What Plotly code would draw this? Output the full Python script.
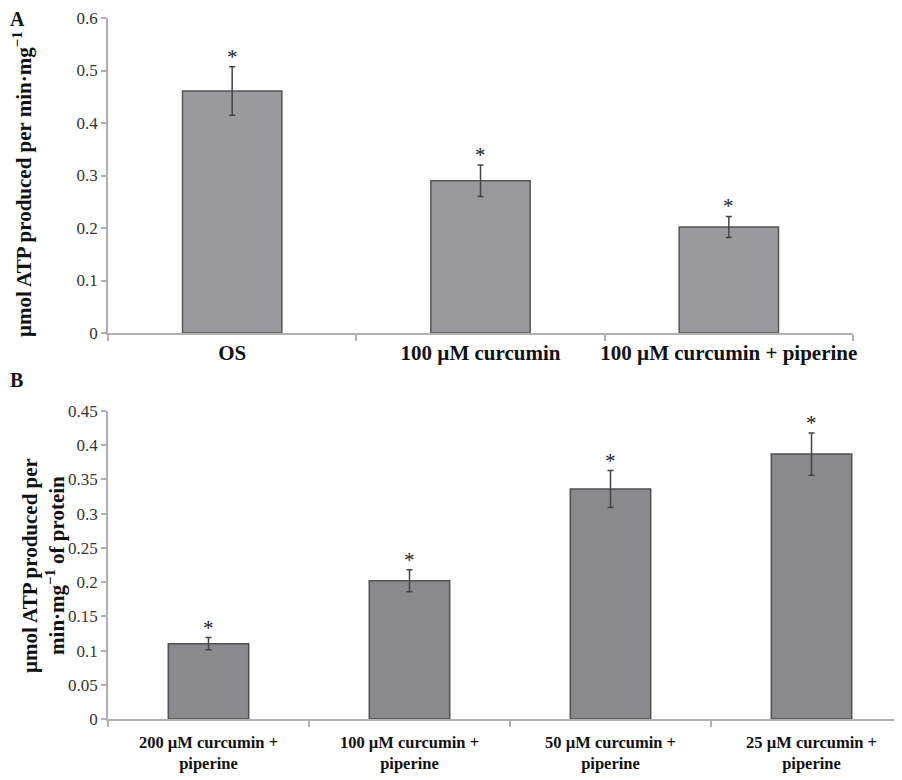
import plotly.graph_objects as go

# Panel A data
cats_a = ["OS", "100 µM curcumin", "100 µM curcumin + piperine"]
vals_a = [0.461, 0.290, 0.202]
errs_a = [0.046, 0.030, 0.020]
yticks_a = [0, 0.1, 0.2, 0.3, 0.4, 0.5, 0.6]

# Panel B data
cats_b = ["200 µM curcumin + piperine", "100 µM curcumin + piperine",
          "50 µM curcumin + piperine", "25 µM curcumin + piperine"]
ticktext_b = ["200 µM curcumin +<br>piperine", "100 µM curcumin +<br>piperine",
              "50 µM curcumin +<br>piperine", "25 µM curcumin +<br>piperine"]
vals_b = [0.110, 0.202, 0.336, 0.387]
errs_b = [0.009, 0.016, 0.027, 0.031]
yticks_b = [0, 0.05, 0.1, 0.15, 0.2, 0.25, 0.3, 0.35, 0.4, 0.45]

W, H = 902, 780
FONT = "Liberation Serif"
AXC = "#b0b0b0"
OFF = 8  # page body margin offset

def px_x(p):
    return (p - OFF) / W

def px_y(p):
    return 1 - (p - OFF) / H

fig = go.Figure()
fig.add_trace(go.Bar(
    x=cats_a, y=vals_a, width=0.4,
    marker=dict(color="#9a9a9e", line=dict(color="#555555", width=1.5)),
    error_y=dict(type="data", array=errs_a, color="#444444", thickness=1.5, width=3),
    xaxis="x", yaxis="y", showlegend=False))
fig.add_trace(go.Bar(
    x=cats_b, y=vals_b, width=0.4,
    marker=dict(color="#8a8a8e", line=dict(color="#505050", width=1.5)),
    error_y=dict(type="data", array=errs_b, color="#444444", thickness=1.5, width=3),
    xaxis="x2", yaxis="y2", showlegend=False))

ann = []
for c, v, e in zip(cats_a, vals_a, errs_a):
    ann.append(dict(x=c, y=v + e, xref="x", yref="y", text="*", showarrow=False,
                    yanchor="bottom", yshift=-4, font=dict(family=FONT, size=21, color="#222")))
for c, v, e in zip(cats_b, vals_b, errs_b):
    ann.append(dict(x=c, y=v + e, xref="x2", yref="y2", text="*", showarrow=False,
                    yanchor="bottom", yshift=-4, font=dict(family=FONT, size=21, color="#222")))

ann.append(dict(x=px_x(8), y=px_y(19), xref="paper", yref="paper", text="<b>A</b>",
                showarrow=False, xanchor="left", yanchor="middle",
                font=dict(family=FONT, size=20, color="#111")))
ann.append(dict(x=px_x(8), y=px_y(380), xref="paper", yref="paper", text="<b>B</b>",
                showarrow=False, xanchor="left", yanchor="middle",
                font=dict(family=FONT, size=20, color="#111")))
ann.append(dict(x=px_x(23), y=px_y(184), xref="paper", yref="paper",
                text="<b>µmol ATP produced per min·mg<sup>−1</sup></b>", textangle=-90,
                showarrow=False, xanchor="center", yanchor="middle",
                font=dict(family=FONT, size=21, color="#111")))
ann.append(dict(x=px_x(43), y=px_y(566), xref="paper", yref="paper",
                text="<b>µmol ATP produced per<br>min·mg<sup>−1</sup> of protein</b>", textangle=-90,
                showarrow=False, xanchor="center", yanchor="middle",
                font=dict(family=FONT, size=21, color="#111")))

common_x = dict(type="category", showline=True, linecolor=AXC, linewidth=1.5,
                ticks="outside", tickcolor=AXC, ticklen=6, tickwidth=1.5,
                tickson="boundaries", showgrid=False, zeroline=False,
                tickangle=0, automargin=False)
common_y = dict(showline=True, linecolor=AXC, linewidth=1.5, ticks="outside",
                tickcolor=AXC, ticklen=5, tickwidth=1.5, showgrid=False, zeroline=False,
                automargin=False, tickfont=dict(family=FONT, size=17, color="#333"))

fig.update_layout(
    width=W, height=H, margin=dict(l=0, r=0, t=0, b=0),
    paper_bgcolor="white", plot_bgcolor="white", bargap=0.6,
    xaxis=dict(domain=[px_x(108), px_x(853)], anchor="y", range=[-0.5, 2.5],
               categoryorder="array", categoryarray=cats_a,
               tickfont=dict(family=FONT, size=21, color="#111", weight="bold"), **common_x),
    yaxis=dict(domain=[px_y(333), px_y(18)], anchor="x", range=[0, 0.6],
               tickvals=yticks_a, **common_y),
    xaxis2=dict(domain=[px_x(108), 1.0], anchor="y2", range=[-0.5, 3.49],
                categoryorder="array", categoryarray=cats_b,
                tickvals=cats_b, ticktext=ticktext_b, ticklabelstandoff=7,
                tickfont=dict(family=FONT, size=16.5, color="#111", weight="bold"), **common_x),
    yaxis2=dict(domain=[px_y(719), px_y(411)], anchor="x2", range=[0, 0.45],
                tickvals=yticks_b, **common_y),
    annotations=ann,
)

fig.write_html("out.html")
